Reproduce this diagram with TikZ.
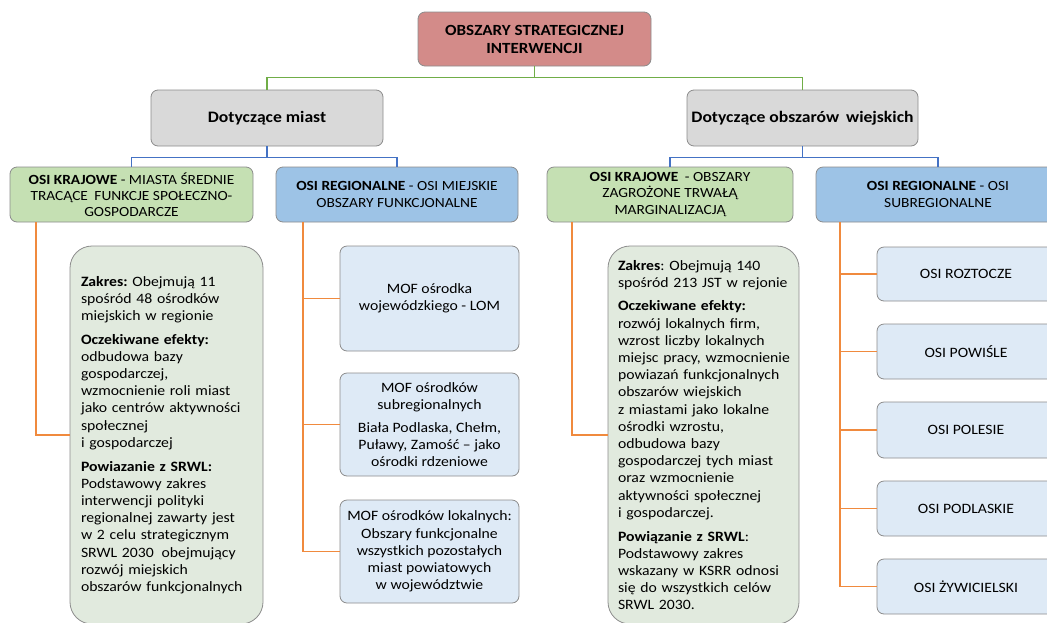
\documentclass[tikz,border=0pt]{standalone}
\usepackage{fontspec}
\setmainfont{Carlito}[FakeStretch=1.1]
\usetikzlibrary{calc}
\definecolor{bordergray}{HTML}{8C8C8C}
\definecolor{topred}{HTML}{D38B89}
\definecolor{graybox}{HTML}{D9D9D9}
\definecolor{greenbox}{HTML}{C5E0B3}
\definecolor{bluebox}{HTML}{9DC3E6}
\definecolor{lightblue}{HTML}{DEEAF6}
\definecolor{sage}{HTML}{E1EADE}
\definecolor{lgreen}{HTML}{70AD47}
\definecolor{lblue}{HTML}{4472C4}
\definecolor{lorange}{HTML}{F08A3E}
\newcommand\fsbody{\fontsize{14.3}{17.2}\selectfont\frenchspacing\hyphenpenalty=10000 }
\newcommand\fsosi{\fontsize{14}{16.2}\selectfont\frenchspacing}
\newcommand\fshead{\fontsize{16}{18}\selectfont\frenchspacing}
\newcommand\fstop{\fontsize{15.5}{18}\selectfont\frenchspacing}
\begin{document}
\begin{tikzpicture}[x=1pt,y=-1pt,
  box/.style={draw=bordergray, line width=0.8pt, rounded corners=7pt, align=center, inner sep=0pt, font=\fsbody},
  hbox/.style={box, font=\fsosi},
  bigbox/.style={box, rounded corners=22pt, align=left, text width=171pt, fill=sage},
  gconn/.style={draw=lgreen, line width=1.4pt},
  bconn/.style={draw=lblue, line width=1.4pt},
  oconn/.style={draw=lorange, line width=1.5pt}]
\useasboundingbox (0,0) rectangle (1047,622);
\clip (0,0) rectangle (1047,622);

% top
\node[box, fill=topred, minimum width=233pt, minimum height=54pt, font=\fstop\bfseries] (top) at (534.5,39) {OBSZARY STRATEGICZNEJ\\INTERWENCJI};
% level 2
\node[box, fill=graybox, minimum width=232pt, minimum height=56pt, font=\fshead\bfseries] (miasta) at (267,118) {Dotyczące miast};
\node[box, fill=graybox, minimum width=231pt, minimum height=56pt, font=\fshead\bfseries] (wies) at (802.5,118) {Dotyczące obszarów\hspace{3pt} wiejskich};
% level 3
\node[hbox, fill=greenbox, minimum width=243pt, minimum height=55pt] (krajL) at (131.5,194.5) {\textbf{OSI KRAJOWE} - MIASTA ŚREDNIE\\TRACĄCE\hspace{3pt} FUNKCJE SPOŁECZNO-\\GOSPODARCZE};
\node[hbox, fill=bluebox, minimum width=242pt, minimum height=55pt] (regL) at (397,194.5) {\textbf{OSI REGIONALNE} - OSI MIEJSKIE\\OBSZARY FUNKCJONALNE};
\node[hbox, fill=greenbox, minimum width=246pt, minimum height=55pt] (krajR) at (670,194.5) {\textbf{OSI KRAJOWE}\hspace{3pt} - OBSZARY\\ZAGROŻONE TRWAŁĄ\\MARGINALIZACJĄ};
\node[hbox, fill=bluebox, minimum width=244pt, minimum height=55pt] (regR) at (938,194.5) {\textbf{OSI REGIONALNE} - OSI\\SUBREGIONALNE};

% connectors top
\draw[gconn] (top.south) -- ++(0,11) -| (miasta.north);
\draw[gconn] (top.south) -- ++(0,11) -| (wies.north);
\draw[bconn] (miasta.south) -- ++(0,11) -| (krajL.north);
\draw[bconn] (miasta.south) -- ++(0,11) -| (regL.north);
\draw[bconn] (wies.south) -- ++(0,11) -| (krajR.north);
\draw[bconn] (wies.south) -- ++(0,11) -| (regR.north);

% left zakres
\node[bigbox, minimum width=193pt, minimum height=378pt] (zakL) at (166.5,435) {%
\textbf{Zakres:} Obejmują 11\\spośród 48 ośrodków\\miejskich w regionie\\[6.5pt]
\textbf{Oczekiwane efekty:}\\odbudowa bazy\\gospodarczej,\\wzmocnienie roli miast\\jako centrów aktywności\\społecznej\\i gospodarczej\\[6.5pt]
\textbf{Powiazanie z SRWL:}\\Podstawowy zakres\\interwencji polityki\\regionalnej zawarty jest\\w 2 celu strategicznym\\SRWL 2030\hspace{3pt} obejmujący\\rozwój miejskich\\obszarów funkcjonalnych};

% MOF boxes
\node[box, fill=lightblue, minimum width=179pt, minimum height=105pt] (mof1) at (429.5,298.5) {MOF ośrodka\\wojewódzkiego - LOM};
\node[box, fill=lightblue, minimum width=179pt, minimum height=103pt] (mof2) at (429.5,424.5) {MOF ośrodków\\subregionalnych\\[6pt]Biała Podlaska, Chełm,\\Puławy, Zamość – jako\\ośrodki rdzeniowe};
\node[box, fill=lightblue, minimum width=179pt, minimum height=103pt] (mof3) at (429.5,551.5) {MOF ośrodków lokalnych:\\Obszary funkcjonalne\\wszystkich pozostałych\\miast powiatowych\\w województwie};

% right zakres
\node[bigbox, minimum width=191pt, minimum height=378pt] (zakR) at (703.5,435) {%
\textbf{Zakres}: Obejmują 140\\\mbox{spośród 213 JST w rejonie}\\[6.5pt]
\textbf{Oczekiwane efekty:}\\rozwój lokalnych firm,\\wzrost liczby lokalnych\\\mbox{miejsc pracy, wzmocnienie}\\\mbox{powiazań funkcjonalnych}\\obszarów wiejskich\\z miastami jako lokalne\\ośrodki wzrostu,\\odbudowa bazy\\gospodarczej tych miast\\oraz wzmocnienie\\aktywności społecznej\\i gospodarczej.\\[6.5pt]
\textbf{Powiązanie z SRWL}:\\Podstawowy zakres\\\mbox{wskazany w KSRR odnosi}\\się do wszystkich celów\\SRWL 2030.};

% OSI boxes
\node[box, fill=lightblue, minimum width=178pt, minimum height=54pt] (osi1) at (966,274) {OSI ROZTOCZE};
\node[box, fill=lightblue, minimum width=178pt, minimum height=55pt] (osi2) at (966,351.5) {OSI POWIŚLE};
\node[box, fill=lightblue, minimum width=178pt, minimum height=56pt] (osi3) at (966,430) {OSI POLESIE};
\node[box, fill=lightblue, minimum width=178pt, minimum height=55pt] (osi4) at (966,508.5) {OSI PODLASKIE};
\node[box, fill=lightblue, minimum width=178pt, minimum height=55pt] (osi5) at (966,586.5) {OSI ŻYWICIELSKI};

% orange connectors
\draw[oconn] ([xshift=-95.5pt]krajL.south) |- (zakL.west);
\draw[oconn] ([xshift=-94pt]regL.south) |- (mof1.west);
\draw[oconn] ([xshift=-94pt]regL.south) |- (mof2.west);
\draw[oconn] ([xshift=-94pt]regL.south) |- (mof3.west);
\draw[oconn] ([xshift=-98pt]krajR.south) |- (zakR.west);
\draw[oconn] ([xshift=-98pt]regR.south) |- (osi1.west);
\draw[oconn] ([xshift=-98pt]regR.south) |- (osi2.west);
\draw[oconn] ([xshift=-98pt]regR.south) |- (osi3.west);
\draw[oconn] ([xshift=-98pt]regR.south) |- (osi4.west);
\draw[oconn] ([xshift=-98pt]regR.south) |- (osi5.west);
\end{tikzpicture}
\end{document}
